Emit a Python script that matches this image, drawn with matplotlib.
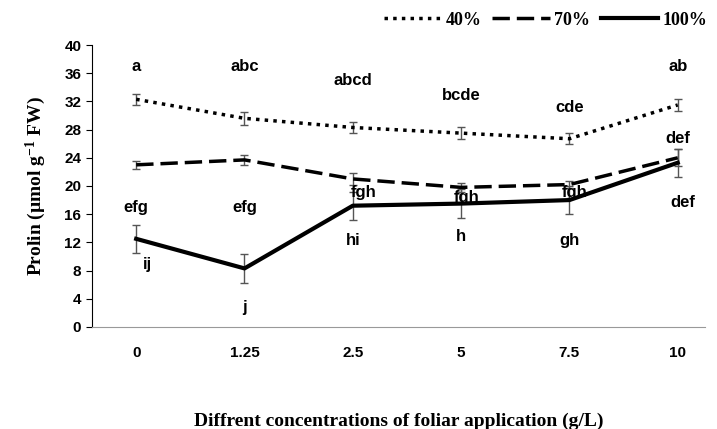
import matplotlib
matplotlib.use("Agg")
import matplotlib.pyplot as plt
from matplotlib.lines import Line2D

plt.rcParams["mathtext.fontset"] = "custom"
plt.rcParams["mathtext.rm"] = "Liberation Serif:bold"
plt.rcParams["mathtext.it"] = "Liberation Serif:bold"
plt.rcParams["mathtext.bf"] = "Liberation Serif:bold"
plt.rcParams["mathtext.default"] = "bf"

cats = ["0", "1.25", "2.5", "5", "7.5", "10"]
s40 = [32.3, 29.6, 28.3, 27.5, 26.7, 31.5]
e40 = [0.8, 0.9, 0.8, 0.8, 0.8, 0.8]
s70 = [23.0, 23.7, 21.0, 19.8, 20.2, 24.0]
e70 = [0.6, 0.7, 0.8, 0.6, 0.5, 1.2]
s100 = [12.5, 8.3, 17.2, 17.5, 18.0, 23.3]
e100 = [2.0, 2.0, 2.0, 2.0, 2.0, 2.0]

lab_txt = ["a", "abc", "abcd", "bcde", "cde", "ab",
           "efg", "efg", "fgh", "fgh", "fgh", "def",
           "ij", "j", "hi", "h", "gh", "def"]
lab_x = [0, 1, 2, 3, 4, 5, 0, 1, 2, 3, 4, 5, 0, 1, 2, 3, 4, 5]
lab_y = [36.9, 36.9, 35.0, 32.9, 31.2, 36.9,
         17.0, 17.0, 19.1, 18.4, 19.1, 26.8,
         8.8, 2.7, 12.3, 12.8, 12.3, 17.6]
lab_dx = [0, 0, 0, 0, 0, 0, 0, 0, 0.1, 0.05, 0.05, 0, 0.1, 0, 0, 0, 0, 0.05]

fig = plt.figure(figsize=(7.17, 4.29), dpi=100)
ax = fig.add_axes([0.128, 0.238, 0.855, 0.657])
x = list(range(len(cats)))
ekw = dict(ecolor="#555555", elinewidth=1, capsize=3, capthick=1)
ax.errorbar(x, s40, yerr=e40, color="black", ls=(0, (1, 1.5)), lw=2.5, **ekw)
ax.errorbar(x, s70, yerr=e70, color="black", ls=(0, (5, 2)), lw=2.5, **ekw)
ax.errorbar(x, s100, yerr=e100, color="black", ls="-", lw=3, **ekw)

for t, xx, yy, dx in zip(lab_txt, lab_x, lab_y, lab_dx):
    ax.text(xx + dx, yy, t, ha="center", va="center", fontsize=12,
            fontweight="bold", family="Liberation Sans")

ax.set_xlim(-0.41, 5.25)
ax.set_ylim(0, 40)
ax.set_yticks(range(0, 41, 4))
ax.set_xticks(x)
ax.set_xticklabels(cats)
for lbl in ax.get_xticklabels() + ax.get_yticklabels():
    lbl.set_fontweight("bold"); lbl.set_family("Liberation Sans"); lbl.set_fontsize(11)
ax.tick_params(axis="x", length=0, pad=14)
ax.tick_params(axis="y", direction="out", length=4)
ax.spines["top"].set_visible(False)
ax.spines["right"].set_visible(False)
ax.spines["bottom"].set_color("#999999")
ax.set_ylabel("Prolin (µmol g$^{-1}$ FW)", fontsize=14,
              fontweight="bold", family="Liberation Serif", labelpad=12)
ax.set_xlabel("Diffrent concentrations of foliar application (g/L)", fontsize=14,
              fontweight="bold", family="Liberation Serif", labelpad=38)
handles = [Line2D([], [], color="black", ls=(0, (1, 1.5)), lw=2.5),
           Line2D([], [], color="black", ls=(0, (5, 2)), lw=2.5),
           Line2D([], [], color="black", ls="-", lw=3)]
ax.legend(handles, ["40%", "70%", "100%"], loc="lower right", bbox_to_anchor=(1.03, 1.0),
          ncol=3, frameon=False,
          prop={"family": "Liberation Serif", "weight": "bold", "size": 13},
          handlelength=3.2, columnspacing=0.6, handletextpad=0.2)
fig.savefig("out.png", dpi=100)
